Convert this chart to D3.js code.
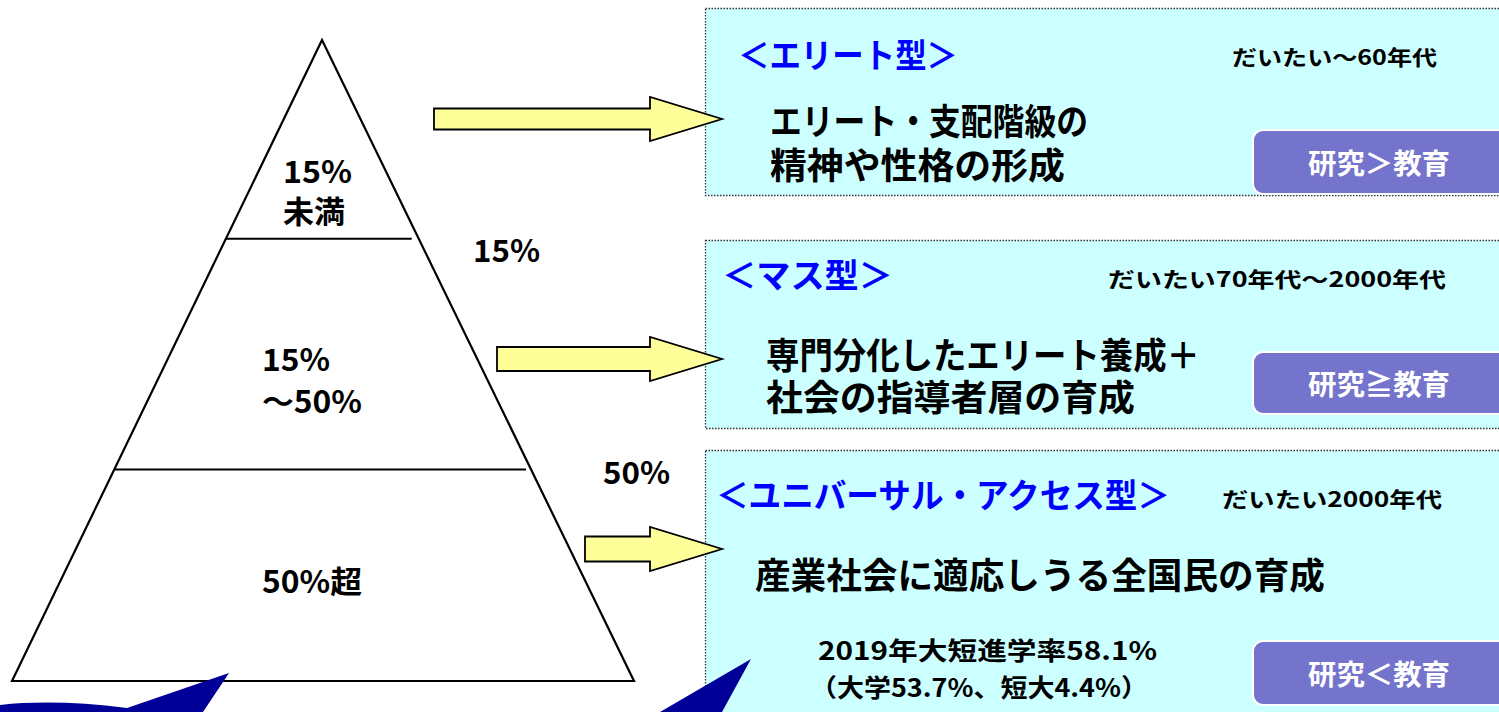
<!DOCTYPE html>
<html><head><meta charset="utf-8">
<script src="https://cdn.jsdelivr.net/npm/d3@7"></script>
<style>html,body{margin:0;padding:0;background:#fff;overflow:hidden}</style>
</head><body>
<svg id="c" width="1499" height="712"></svg>
<script>
// ---- data ----
const stageTypes = ["＜エリート型＞", "＜マス型＞", "＜ユニバーサル・アクセス型＞"];
const stagePeriods = ["だいたい～60年代", "だいたい70年代～2000年代", "だいたい2000年代"];
const stageRoles = [["エリート・支配階級の", "精神や性格の形成"], ["専門分化したエリート養成＋", "社会の指導者層の育成"], ["産業社会に適応しうる全国民の育成"]];
const stageBadges = ["研究＞教育", "研究≧教育", "研究＜教育"];
const pyramidLabels = [["15%", "未満"], ["15%", "～50%"], ["50%超"]];
const thresholds = ["15%", "50%"];
const noteLines = ["2019年大短進学率58.1%", "（大学53.7%、短大4.4%）"];

const svg = d3.select("#c");
const FONT = "'Noto Sans CJK JP','Noto Sans',sans-serif";

// pyramid geometry via scale (fraction of height -> y)
const apex = [322, 40], baseY = 681, baseL = 12, baseR = 634;
const yS = d3.scaleLinear().domain([0, 1]).range([apex[1], baseY]);
const xL = d3.scaleLinear().domain([0, 1]).range([apex[0], baseL]);
const xR = d3.scaleLinear().domain([0, 1]).range([apex[0], baseR]);
const cuts = [0.31, 0.67];

// triangle
svg.append("path").attr("fill", "#fff").attr("stroke", "#000").attr("stroke-width", 2.2)
  .attr("d", `M${xL(1)},${yS(1)} L${apex[0]},${apex[1]} L${xR(1)},${yS(1)} Z`);
cuts.forEach((c, i) => {
  svg.append("line").attr("stroke", "#000").attr("stroke-width", 2)
    .attr("x1", xL(c)).attr("x2", xR(c) - (i ? 5 : 7))
    .attr("y1", yS(c)).attr("y2", yS(c));
});

function txt(s, x, y, size, w, color) {
  const t = svg.append("text").text(s).attr("x", x).attr("y", y)
    .attr("font-family", FONT).attr("font-weight", "bold")
    .attr("font-size", size).attr("fill", color || "#000")
    .attr("dominant-baseline", "central");
  if (w) t.attr("textLength", w).attr("lengthAdjust", "spacingAndGlyphs");
  return t;
}

// pyramid labels
const pl = [
  [[283, 169, 69], [283, 209, 62]],
  [[262, 357, 68], [262, 399, 100]],
  [[262, 579, 100]]
];
pyramidLabels.forEach((lines, i) => lines.forEach((s, j) => {
  const p = pl[i][j]; txt(s, p[0], p[1], 31, p[2]);
}));
const thPos = [[473, 248], [603, 470]];
thresholds.forEach((s, i) => txt(s, thPos[i][0], thPos[i][1], 31, 67));

// boxes
const boxes = [[8, 195], [240, 428], [450, 730]];
boxes.forEach(b => {
  svg.append("rect").attr("x", 705.5).attr("y", b[0] + 0.5)
    .attr("width", 810).attr("height", b[1] - b[0])
    .attr("fill", "#CCFFFF").attr("stroke", "#333").attr("stroke-width", 1.3)
    .attr("stroke-dasharray", "1.5,1.5");
});

// arrows
const arrows = [[434, 119, 21], [497, 359, 24], [585, 549, 25]];
arrows.forEach(a => {
  const [x0, cy, sh] = a, hx = 650, tip = 722, hh = 22;
  svg.append("path").attr("fill", "#FFFF99").attr("stroke", "#000").attr("stroke-width", 1.8)
    .attr("d", `M${x0},${cy - sh / 2} L${hx},${cy - sh / 2} L${hx},${cy - hh} L${tip},${cy} L${hx},${cy + hh} L${hx},${cy + sh / 2} L${x0},${cy + sh / 2} Z`);
});

// titles
const titlePos = [[738, 53, 220], [722, 273, 171], [716, 493, 454]];
stageTypes.forEach((s, i) => txt(s, titlePos[i][0], titlePos[i][1], 34, titlePos[i][2], "#0000FF"));
const perPos = [[1232, 56, 205], [1108, 278, 338], [1222, 498, 220]];
stagePeriods.forEach((s, i) => txt(s, perPos[i][0], perPos[i][1], 21, perPos[i][2]));
const rolePos = [[[770, 119, 318], [770, 163, 295]], [[766, 353, 434], [766, 395, 369]], [[755, 573, 570]]];
stageRoles.forEach((lines, i) => lines.forEach((s, j) => {
  const p = rolePos[i][j]; txt(s, p[0], p[1], 36, p[2]);
}));
const notePos = [[818, 649, 339], [810, 686, 338]];
noteLines.forEach((s, i) => txt(s, notePos[i][0], notePos[i][1], 25, notePos[i][2]));

// badges
const badgeY = [[130, 194], [352, 414], [641, 705]];
stageBadges.forEach((s, i) => {
  const [y0, y1] = badgeY[i];
  svg.append("rect").attr("x", 1253).attr("y", y0).attr("width", 270).attr("height", y1 - y0)
    .attr("rx", 10).attr("fill", "#7474CC").attr("stroke", "#fff").attr("stroke-width", 2);
  txt(s, 1308, (y0 + y1) / 2, 28, 142, "#fff");
});

// blue decorative tails (drawn on top)
svg.append("path").attr("fill", "#000099")
  .attr("d", "M0,705 Q55,699 127,708 L229,673 L203,712 L0,712 Z");
svg.append("path").attr("fill", "#000099")
  .attr("d", "M660,712 L751,659 L722,712 Z");
</script>
</body></html>
